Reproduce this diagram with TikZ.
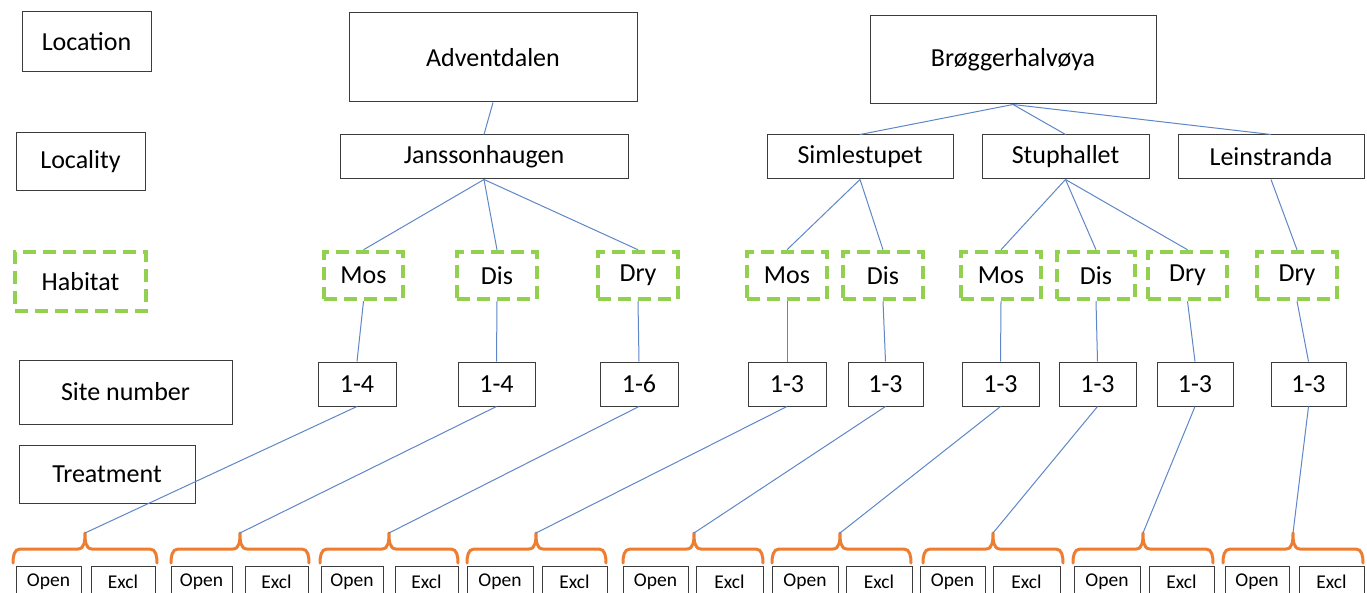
\documentclass[tikz,border=0pt]{standalone}
\usepackage{fontspec}
\setmainfont{Carlito}
\definecolor{boxc}{RGB}{60,60,60}
\definecolor{linec}{RGB}{95,135,200}
\definecolor{habc}{RGB}{146,208,80}
\definecolor{bracec}{RGB}{237,125,49}
\newcommand\brc[4]{%
  \coordinate (#4) at (#3,533);
  \draw[bracepath] (#1,563) to[out=90,in=180] (#1+7,549) -- (#3-7,549)
    to[out=0,in=-90] (#3,533) to[out=-90,in=180] (#3+7,549) -- (#2-7,549)
    to[out=0,in=90] (#2,563);}
\begin{document}
\begin{tikzpicture}[x=1pt,y=-1pt,
  box/.style={draw=boxc, line width=1pt, inner sep=0pt, font=\fontsize{26}{31}\selectfont},
  hab/.style={draw=habc, line width=4.5pt, dash pattern=on 13pt off 7pt, inner sep=0pt, font=\fontsize{26}{31}\selectfont},
  tbox/.style={draw=boxc, line width=0.9pt, inner sep=0pt, minimum height=32pt, font=\fontsize{19.5}{23}\selectfont},
  conn/.style={draw=linec, line width=1pt},
  bracepath/.style={draw=bracec, line width=3pt, line cap=round, line join=round}]
\useasboundingbox (0,0) rectangle (1367,593);
\fill[white] (0,0) rectangle (1367,593);

% left legend column
\node[box, minimum width=129pt, minimum height=60pt] (lloc) at (86.5,42) {Location};
\node[box, minimum width=129pt, minimum height=58pt] (llty) at (80.5,162) {Locality};
\node[hab, minimum width=131pt, minimum height=59pt] (lhab) at (80.5,281.5) {Habitat};
\node[box, minimum width=213pt, minimum height=64pt] (lsite) at (125.5,392) {Site number};
\node[box, minimum width=176pt, minimum height=58pt] (ltrt) at (107,474) {Treatment};

% locations
\node[box, minimum width=288pt, minimum height=89pt] (adv) at (493,57.5) {Adventdalen};
\node[box, minimum width=286pt, minimum height=88pt] (brg) at (1013,60) {Brøggerhalvøya};

% localities
\node[box, minimum width=288pt, minimum height=44pt] (jan) at (484,157) {Janssonhaugen};
\node[box, minimum width=186pt, minimum height=44pt] (sim) at (860,157) {Simlestupet};
\node[box, minimum width=167pt, minimum height=44pt] (stu) at (1065.5,157) {Stuphallet};
\node[box, minimum width=186pt, minimum height=44pt] (lei) at (1271,157) {Leinstranda};

% habitats
\node[hab, minimum width=79pt, minimum height=47pt] (h1) at (363.5,275.5) {Mos};
\node[hab, minimum width=80pt, minimum height=47pt] (h2) at (497,275.5) {Dis};
\node[hab, minimum width=80pt, minimum height=47pt] (h3) at (638,275.5) {Dry};
\node[hab, minimum width=80pt, minimum height=47pt] (h4) at (787,275.5) {Mos};
\node[hab, minimum width=80pt, minimum height=47pt] (h5) at (883,275.5) {Dis};
\node[hab, minimum width=80pt, minimum height=47pt] (h6) at (1001,275.5) {Mos};
\node[hab, minimum width=78pt, minimum height=47pt] (h7) at (1096,275.5) {Dis};
\node[hab, minimum width=79pt, minimum height=47pt] (h8) at (1187.5,275.5) {Dry};
\node[hab, minimum width=80pt, minimum height=47pt] (h9) at (1297,275.5) {Dry};

% site numbers
\node[box, minimum width=78pt, minimum height=44pt] (s1) at (357,384) {1-4};
\node[box, minimum width=77pt, minimum height=44pt] (s2) at (496.5,384) {1-4};
\node[box, minimum width=78pt, minimum height=44pt] (s3) at (639,384) {1-6};
\node[box, minimum width=78pt, minimum height=44pt] (s4) at (787,384) {1-3};
\node[box, minimum width=75pt, minimum height=44pt] (s5) at (885.5,384) {1-3};
\node[box, minimum width=77pt, minimum height=44pt] (s6) at (1000.5,384) {1-3};
\node[box, minimum width=77pt, minimum height=44pt] (s7) at (1097.5,384) {1-3};
\node[box, minimum width=76pt, minimum height=44pt] (s8) at (1195,384) {1-3};
\node[box, minimum width=75pt, minimum height=44pt] (s9) at (1308.5,384) {1-3};

% treatment boxes
\node[tbox, minimum width=65pt] (o1) at (48.5,582) {Open};
\node[tbox, minimum width=64pt] (e1) at (123,582) {Excl};
\node[tbox, minimum width=61pt] (o2) at (201.5,582) {Open};
\node[tbox, minimum width=63pt] (e2) at (276.5,582) {Excl};
\node[tbox, minimum width=62pt] (o3) at (352,582) {Open};
\node[tbox, minimum width=63pt] (e3) at (426.5,582) {Excl};
\node[tbox, minimum width=66pt] (o4) at (500,582) {Open};
\node[tbox, minimum width=65pt] (e4) at (574.5,582) {Excl};
\node[tbox, minimum width=65pt] (o5) at (655.5,582) {Open};
\node[tbox, minimum width=67pt] (e5) at (729.5,582) {Excl};
\node[tbox, minimum width=66pt] (o6) at (805,582) {Open};
\node[tbox, minimum width=66pt] (e6) at (879,582) {Excl};
\node[tbox, minimum width=65pt] (o7) at (952.5,582) {Open};
\node[tbox, minimum width=67pt] (e7) at (1026.5,582) {Excl};
\node[tbox, minimum width=66pt] (o8) at (1107,582) {Open};
\node[tbox, minimum width=65pt] (e8) at (1181.5,582) {Excl};
\node[tbox, minimum width=64pt] (o9) at (1257,582) {Open};
\node[tbox, minimum width=65pt] (e9) at (1331.5,582) {Excl};

% braces
\brc{13}{157}{85}{t1}
\brc{171}{309}{240}{t2}
\brc{320}{458}{389}{t3}
\brc{467}{606}{536}{t4}
\brc{623}{763}{694}{t5}
\brc{772}{911}{840}{t6}
\brc{923}{1063}{993}{t7}
\brc{1073}{1213}{1143}{t8}
\brc{1223}{1363}{1293}{t9}

% connectors
\draw[conn] (adv.south) -- (jan.north);
\draw[conn] (brg.south) -- (sim.north);
\draw[conn] (brg.south) -- (stu.north);
\draw[conn] (brg.south) -- (lei.north);
\draw[conn] (jan.south) -- (h1.north);
\draw[conn] (jan.south) -- (h2.north);
\draw[conn] (jan.south) -- (h3.north);
\draw[conn] (sim.south) -- (h4.north);
\draw[conn] (sim.south) -- (h5.north);
\draw[conn] (stu.south) -- (h6.north);
\draw[conn] (stu.south) -- (h7.north);
\draw[conn] (stu.south) -- (h8.north);
\draw[conn] (lei.south) -- (h9.north);
\foreach \i in {1,...,9} {
  \draw[conn] (h\i.south) -- (s\i.north);
  \draw[conn] (s\i.south) -- (t\i);
}
\end{tikzpicture}
\end{document}
